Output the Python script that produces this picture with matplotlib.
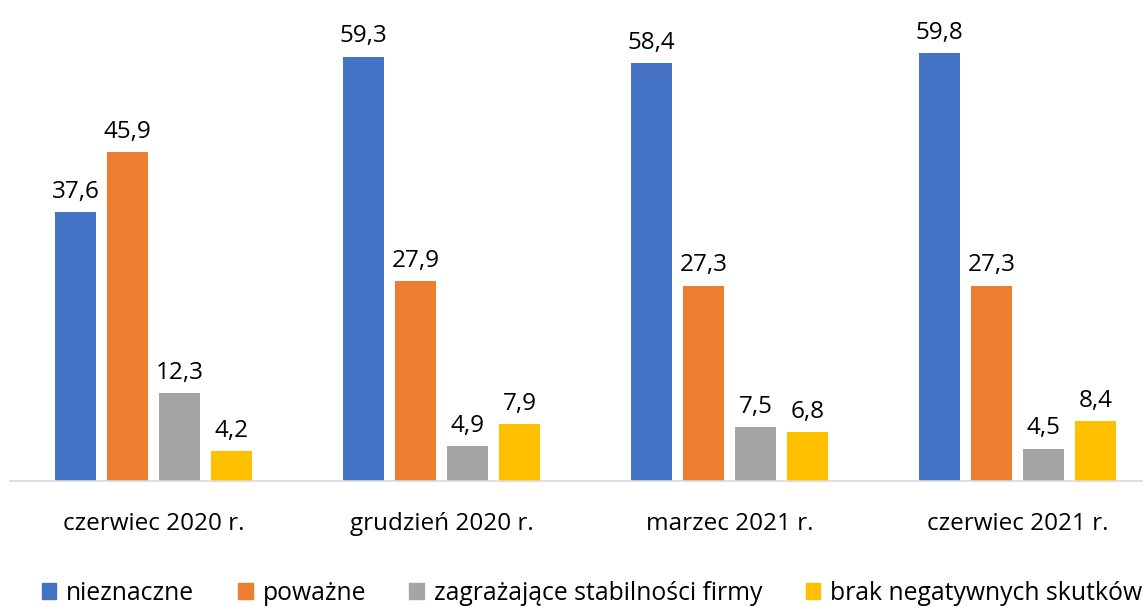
import numpy as np
import matplotlib.pyplot as plt
from matplotlib.patches import Rectangle

plt.rcParams['font.family'] = ['Open Sans', 'DejaVu Sans']

# data
Categories = ['czerwiec 2020 r.', 'grudzień 2020 r.', 'marzec 2021 r.', 'czerwiec 2021 r.']
SeriesNames = ['nieznaczne', 'poważne', 'zagrażające stabilności firmy', 'brak negatywnych skutków']
Nieznaczne = [37.6, 59.3, 58.4, 59.8]
Powazne = [45.9, 27.9, 27.3, 27.3]
Zagrazajace = [12.3, 4.9, 7.5, 4.5]
BrakSkutkow = [4.2, 7.9, 6.8, 8.4]
Colors = ['#4472C4', '#ED7D31', '#A5A5A5', '#FFC000']

AllSeries = [Nieznaczne, Powazne, Zagrazajace, BrakSkutkow]

W, H = 1143, 607
fig = plt.figure(figsize=(W/100, H/100), dpi=100)
# axes in pixel terms: baseline at y=481, groups 288 px apart, first group centred at 153.5
left = 9.5
ax = fig.add_axes([left/W, (H-481)/H, 4*288/W, 481/H])

x = np.arange(len(Categories))
BarW = 41/288
Step = 52/288
for i, (vals, col) in enumerate(zip(AllSeries, Colors)):
    pos = x + (i - 1.5)*Step
    bars = ax.bar(pos, vals, width=BarW, color=col, label=SeriesNames[i])
    for p, v in zip(pos, vals):
        ax.annotate(('%.1f' % v).replace('.', ','), (p, v), xytext=(0, 6),
                    textcoords='offset points', ha='center', va='bottom', fontsize=17.5)

ax.set_xlim(-0.5, 3.5)
ax.set_ylim(0, 481/7.157)
ax.set_xticks(x)
ax.set_xticklabels(Categories, fontsize=17.5)
ax.tick_params(axis='x', length=0, pad=22)
ax.set_yticks([])
for s in ['top', 'right', 'left']:
    ax.spines[s].set_visible(False)
ax.spines['bottom'].set_color('#D9D9D9')
ax.spines['bottom'].set_linewidth(1.2)

Handles = [Rectangle((0, 0), 1, 1, color=c) for c in Colors]
fig.legend(Handles, SeriesNames, loc='center', bbox_to_anchor=(592/W, 1-593/H), ncol=4,
           frameon=False, fontsize=17.8, handlelength=0.6, handleheight=0.6,
           handletextpad=0.4, columnspacing=1.75, borderpad=0, borderaxespad=0)

fig.savefig('out.png', dpi=100)
